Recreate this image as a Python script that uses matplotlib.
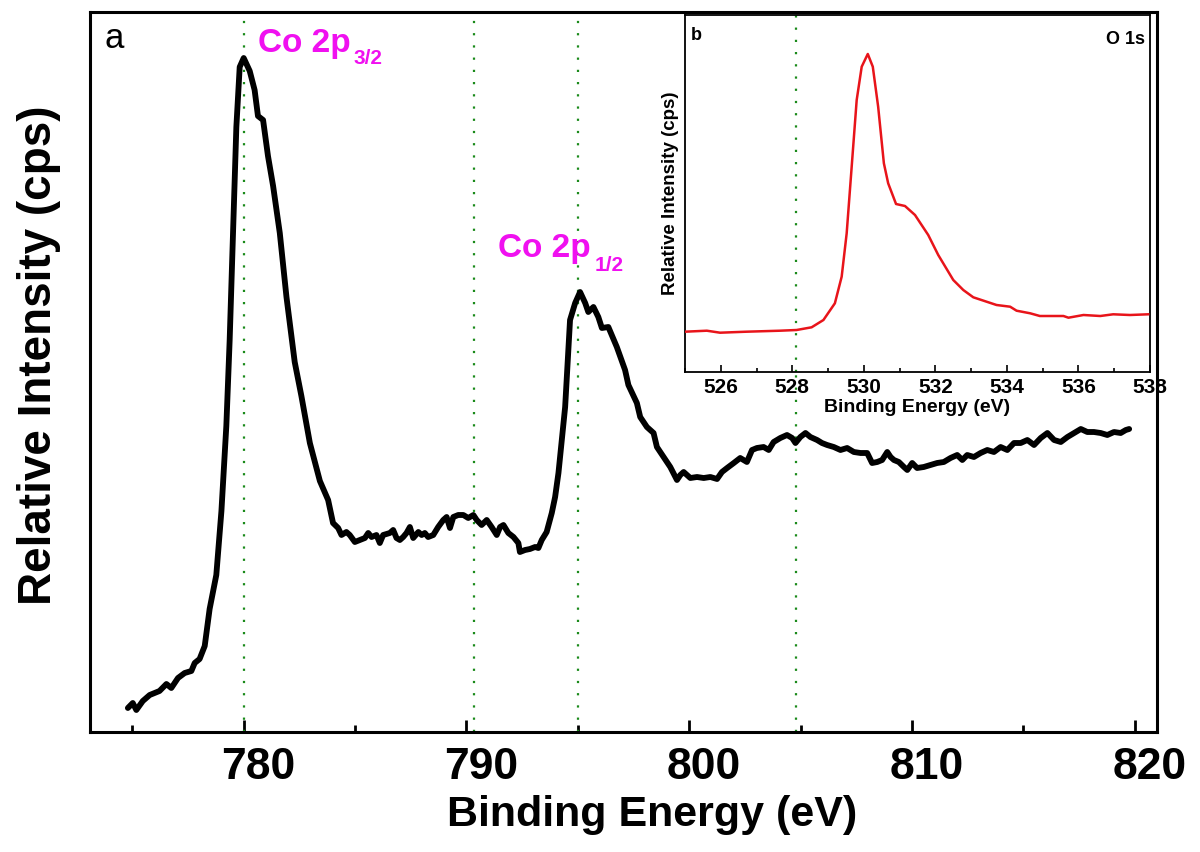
import numpy as np
import matplotlib
matplotlib.use("Agg")
import matplotlib.pyplot as plt
from matplotlib.transforms import ScaledTranslation

plt.rcParams['font.family'] = ['Liberation Sans', 'DejaVu Sans']

# ---- main panel: Co 2p spectrum ----
co_energy = [774.80, 775.02, 775.18, 775.47, 775.78, 776.00, 776.22, 776.53, 776.75, 777.05,
             777.35, 777.65, 777.80, 778.02, 778.25, 778.47, 778.77, 779.00,
             779.22, 779.37, 779.52, 779.67, 779.82, 780.00, 780.27, 780.49, 780.64, 780.87,
             781.09, 781.32, 781.62, 781.92, 782.29, 782.59, 782.97, 783.42, 783.79,
             784.01, 784.24, 784.39, 784.61, 784.76, 784.99, 785.21, 785.44, 785.59, 785.74,
             785.96, 786.11, 786.26, 786.56, 786.71, 786.86, 787.01, 787.16, 787.31, 787.46,
             787.61, 787.84, 787.99, 788.13, 788.28, 788.51, 788.73, 788.96, 789.11, 789.26,
             789.41, 789.63, 789.86, 790.08, 790.31, 790.46, 790.68, 790.91, 791.13, 791.36,
             791.51, 791.66, 791.88, 792.11, 792.33, 792.40, 792.63, 792.85, 793.08, 793.23,
             793.38, 793.60, 793.83, 793.98, 794.13, 794.28, 794.43,
             794.65, 794.88, 795.10, 795.33, 795.47, 795.70, 795.92, 796.08, 796.37, 796.75,
             797.12, 797.27, 797.65,
             797.80, 798.10, 798.40, 798.55, 798.85, 799.15, 799.45, 799.60, 799.75, 800.05,
             800.35, 800.65, 800.95, 801.25, 801.47, 801.70, 802.00, 802.29, 802.59, 802.82,
             803.04, 803.34, 803.57, 803.79, 804.09, 804.39, 804.62, 804.77, 804.99, 805.22,
             805.44, 805.74, 805.96, 806.19, 806.49, 806.79, 807.09, 807.39, 807.69, 807.99,
             808.21, 808.44, 808.66, 808.89, 809.04, 809.19, 809.41, 809.64, 809.79, 810.01,
             810.23, 810.53, 810.83, 811.13, 811.43, 811.73, 812.03, 812.26, 812.48, 812.78,
             813.08, 813.38, 813.68, 813.98, 814.28, 814.58, 814.88, 815.18, 815.48, 815.78,
             816.08, 816.38, 816.68, 816.98, 817.28, 817.58, 817.87, 818.17, 818.47, 818.77,
             819.07, 819.37, 819.60, 819.75]
co_intensity = [24, 29, 22, 31, 37, 39, 41, 48, 44, 54,
                59, 61, 69, 73, 86, 123, 157, 221,
                306, 392, 499, 605, 665, 674, 661, 642, 616, 612,
                576, 546, 499, 435, 370, 336, 289, 251, 232,
                209, 204, 197, 200, 197, 190, 192, 194, 199, 195,
                197, 189, 197, 199, 202, 194, 192, 195, 199, 205,
                194, 200, 197, 199, 195, 197, 205, 212, 215, 204,
                215, 217, 217, 214, 217, 212, 207, 212, 205, 197,
                205, 207, 199, 195, 189, 180, 182, 183, 185, 184,
                192, 200, 219, 235, 259, 292, 325,
                412, 429, 440, 429, 420, 425, 415, 404, 405, 385,
                362, 347, 329,
                315, 305, 299, 285, 275, 265, 252, 257, 260, 254,
                255, 254, 255, 253, 260, 264, 269, 274, 270, 282,
                284, 285, 282, 290, 294, 297, 294, 289, 295, 299,
                295, 292, 289, 287, 285, 282, 284, 280, 279, 279,
                269, 270, 272, 280, 275, 272, 270, 265, 262, 269,
                264, 265, 267, 269, 270, 274, 277, 272, 277, 275,
                279, 282, 280, 285, 282, 289, 289, 292, 287, 294,
                299, 292, 290, 295, 299, 303, 300, 300, 299, 297,
                300, 299, 302, 303]
co_markers = [780.0, 790.35, 795.0, 804.8]
main_xticks = [780, 790, 800, 810, 820]
main_minor = [775, 785, 795, 805, 815]

# ---- inset: O 1s spectrum ----
o_energy = [525.00, 525.61, 525.98, 526.72, 527.66, 528.12, 528.54, 528.87, 529.19, 529.38,
            529.52, 529.66, 529.80, 529.94, 530.11, 530.25, 530.40, 530.56, 530.68, 530.90,
            531.15, 531.43, 531.80, 532.08, 532.50, 532.78, 533.06, 533.71, 534.09, 534.27,
            534.65, 534.92, 535.58, 535.72, 536.14, 536.61, 536.97, 537.44, 537.95]
o_intensity = [40.3, 41.3, 39.3, 40.3, 41.3, 42.0, 44.7, 52.0, 68.7, 95.3,
               138.7, 205.3, 272.0, 305.3, 318.0, 305.3, 265.3, 208.7, 188.7, 168.0,
               166.0, 157.0, 137.0, 117.0, 92.0, 82.0, 74.7, 67.0, 65.3, 61.3,
               58.7, 56.0, 56.0, 54.3, 57.0, 56.0, 57.7, 57.0, 57.7]
o_markers = [528.1]
inset_xticks = [526, 528, 530, 532, 534, 536, 538]
inset_minor = [525, 527, 529, 531, 533, 535, 537]

W, H = 1200, 852
fig = plt.figure(figsize=(W / 100, H / 100), dpi=100)

def fx(px):
    return px / W

def fy(py):
    return 1 - py / H

ax = fig.add_axes([fx(90), fy(732), fx(1157) - fx(90), fy(12) - fy(732)])
ax.plot(co_energy, co_intensity, color='black', lw=4.2, solid_joinstyle='round',
        solid_capstyle='round', zorder=3)
for m in co_markers:
    ax.axvline(m, color='#1a8a1a', lw=1.6, ls=(0, (1, 4.5)), zorder=2)
ax.set_xlim(773.1, 821.0)
ax.set_ylim(0, 720)
ax.set_yticks([])
ax.set_xticks(main_xticks)
ax.set_xticks(main_minor, minor=True)
ax.tick_params(axis='x', which='major', direction='in', length=9, width=2, pad=11,
               labelsize=32)
ax.tick_params(axis='x', which='minor', direction='in', length=5, width=2)
for lab in ax.get_xticklabels():
    lab.set_fontweight('bold')
    lab.set_transform(lab.get_transform() + ScaledTranslation(0.15, 0, fig.dpi_scale_trans))
for s in ax.spines.values():
    s.set_linewidth(2.2)

fig.text(fx(652), fy(826), 'Binding Energy (eV)', fontsize=31, fontweight='bold',
         ha='center', va='baseline')
fig.text(fx(39), fy(355), 'Relative Intensity (cps)', fontsize=33, fontweight='bold',
         ha='center', va='center', rotation=90)

fig.text(fx(105), fy(48), 'a', fontsize=25, ha='left', va='baseline')
mag = '#f010f0'
fig.text(fx(258), fy(52), 'Co 2p', fontsize=24, fontweight='bold', color=mag, va='baseline')
fig.text(fx(353), fy(64), '3/2', fontsize=15, fontweight='bold', color=mag, va='baseline')
fig.text(fx(498), fy(257), 'Co 2p', fontsize=24, fontweight='bold', color=mag, va='baseline')
fig.text(fx(595), fy(271), '1/2', fontsize=15, fontweight='bold', color=mag, va='baseline')

# inset
axi = fig.add_axes([fx(685), fy(372), fx(1150) - fx(685), fy(15) - fy(372)])
axi.plot(o_energy, o_intensity, color='#e8141a', lw=1.8, zorder=3)
for m in o_markers:
    axi.axvline(m, color='#1a8a1a', lw=1.6, ls=(0, (1, 4.5)), zorder=2)
axi.set_xlim(525, 538)
axi.set_ylim(0, 357)
axi.set_yticks([])
axi.set_xticks(inset_xticks)
axi.set_xticks(inset_minor, minor=True)
axi.tick_params(axis='x', which='major', direction='in', length=5, width=1.2, pad=4,
                labelsize=15)
axi.tick_params(axis='x', which='minor', direction='in', length=3, width=1.2)
for lab in axi.get_xticklabels():
    lab.set_fontweight('bold')
for s in axi.spines.values():
    s.set_linewidth(1.3)
axi.set_xlabel('Binding Energy (eV)', fontsize=14, fontweight='bold', labelpad=2)
axi.set_ylabel('Relative Intensity (cps)', fontsize=13.5, fontweight='bold', labelpad=4)
axi.text(0.012, 0.965, 'b', transform=axi.transAxes, fontsize=13, fontweight='bold',
         ha='left', va='top')
axi.text(0.99, 0.955, 'O 1s', transform=axi.transAxes, fontsize=13, fontweight='bold',
         ha='right', va='top')

fig.savefig('out.png', dpi=100)
